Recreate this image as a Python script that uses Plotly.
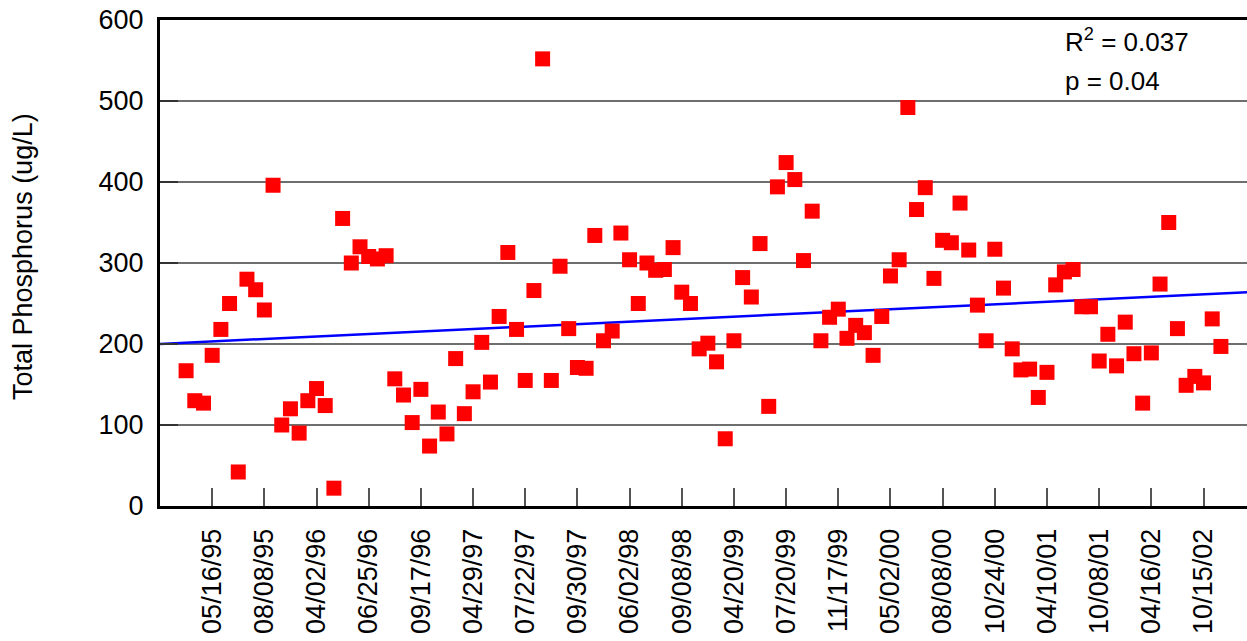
import numpy as np
import plotly.graph_objects as go

# Total phosphorus concentrations, one value per sampling event (ug/L)
tp_values = [
    167, 130, 127, 186, 218, 250, 42, 280, 267, 242,
    396, 100, 120, 90, 130, 145, 124, 22, 355, 300,
    320, 308, 305, 309, 157, 137, 103, 144, 74, 116,
    89, 182, 114, 141, 202, 153, 234, 313, 218, 155,
    266, 552, 155, 296, 219, 171, 170, 334, 204, 216,
    337, 304, 250, 300, 291, 292, 319, 264, 250, 194,
    201, 178, 83, 204, 282, 258, 324, 123, 394, 424,
    403, 303, 364, 204, 233, 243, 207, 223, 214, 186,
    234, 284, 304, 492, 366, 393, 281, 328, 325, 374,
    316, 248, 204, 317, 269, 194, 168, 169, 134, 165,
    273, 289, 292, 246, 246, 179, 212, 173, 227, 188,
    127, 189, 274, 350, 219, 149, 160, 152, 231, 197,
]

# Sample dates shown on the axis (every sixth sample, starting with the fourth)
date_labels = [
    "05/16/95", "08/08/95", "04/02/96", "06/25/96", "09/17/96",
    "04/29/97", "07/22/97", "09/30/97", "06/02/98", "09/08/98",
    "04/20/99", "07/20/99", "11/17/99", "05/02/00", "08/08/00",
    "10/24/00", "04/10/01", "10/08/01", "04/16/02", "10/15/02",
]
label_positions = [4 + 6 * k for k in range(len(date_labels))]

r_squared_text = "R<sup>2</sup> = 0.037"
p_value_text = "p = 0.04"

sample_no = np.arange(1, len(tp_values) + 1)
x_min, x_max = -2, 123

# Least-squares trend against sample order
slope, intercept = np.polyfit(sample_no, tp_values, 1)
trend_x = np.array([x_min, x_max])
trend_y = intercept + slope * trend_x

FONT = "Liberation Sans, Arial, sans-serif"

fig = go.Figure()
fig.add_trace(go.Scatter(
    x=trend_x, y=trend_y, mode="lines",
    line=dict(color="#0000FF", width=2.5),
    hoverinfo="skip", showlegend=False,
))
fig.add_trace(go.Scatter(
    x=sample_no, y=tp_values, mode="markers",
    marker=dict(symbol="square", size=15, color="#FF0000", line=dict(width=0)),
    showlegend=False,
))

fig.update_layout(
    width=1247, height=641,
    margin=dict(l=160, r=0, t=20, b=135),
    paper_bgcolor="white", plot_bgcolor="white",
    font=dict(family=FONT, size=27, color="black"),
    xaxis=dict(
        range=[x_min, x_max],
        tickmode="array", tickvals=label_positions, ticktext=date_labels,
        tickangle=-90,
        ticks="inside", ticklen=18, tickwidth=1.5, tickcolor="#555555",
        ticklabelstandoff=9,
        showgrid=False, zeroline=False,
        showline=True, linecolor="black", linewidth=3, mirror=True,
        tickfont=dict(family=FONT, size=27, color="black"),
    ),
    yaxis=dict(
        range=[0, 600], tickmode="linear", tick0=0, dtick=100,
        ticks="inside", ticklen=18, tickwidth=1.5, tickcolor="#333333",
        ticklabelstandoff=8,
        showgrid=True, gridcolor="#6e6e6e", gridwidth=1.5,
        zeroline=False,
        showline=True, linecolor="black", linewidth=3,
        tickfont=dict(family=FONT, size=27, color="black"),
    ),
    annotations=[
        dict(text="Total Phosphorus (ug/L)", xref="paper", yref="paper",
             x=(23 - 160) / 1087, y=(506 - 257) / 486, textangle=-90,
             showarrow=False, xanchor="center", yanchor="middle",
             font=dict(family=FONT, size=27, color="black")),
        dict(text=r_squared_text, xref="paper", yref="paper",
             x=(1063 - 160) / 1087, y=(506 - 40) / 486,
             showarrow=False, xanchor="left", yanchor="middle",
             font=dict(family=FONT, size=26, color="black")),
        dict(text=p_value_text, xref="paper", yref="paper",
             x=(1063 - 160) / 1087, y=(506 - 81) / 486,
             showarrow=False, xanchor="left", yanchor="middle",
             font=dict(family=FONT, size=26, color="black")),
    ],
)

fig.write_html("out.html")
